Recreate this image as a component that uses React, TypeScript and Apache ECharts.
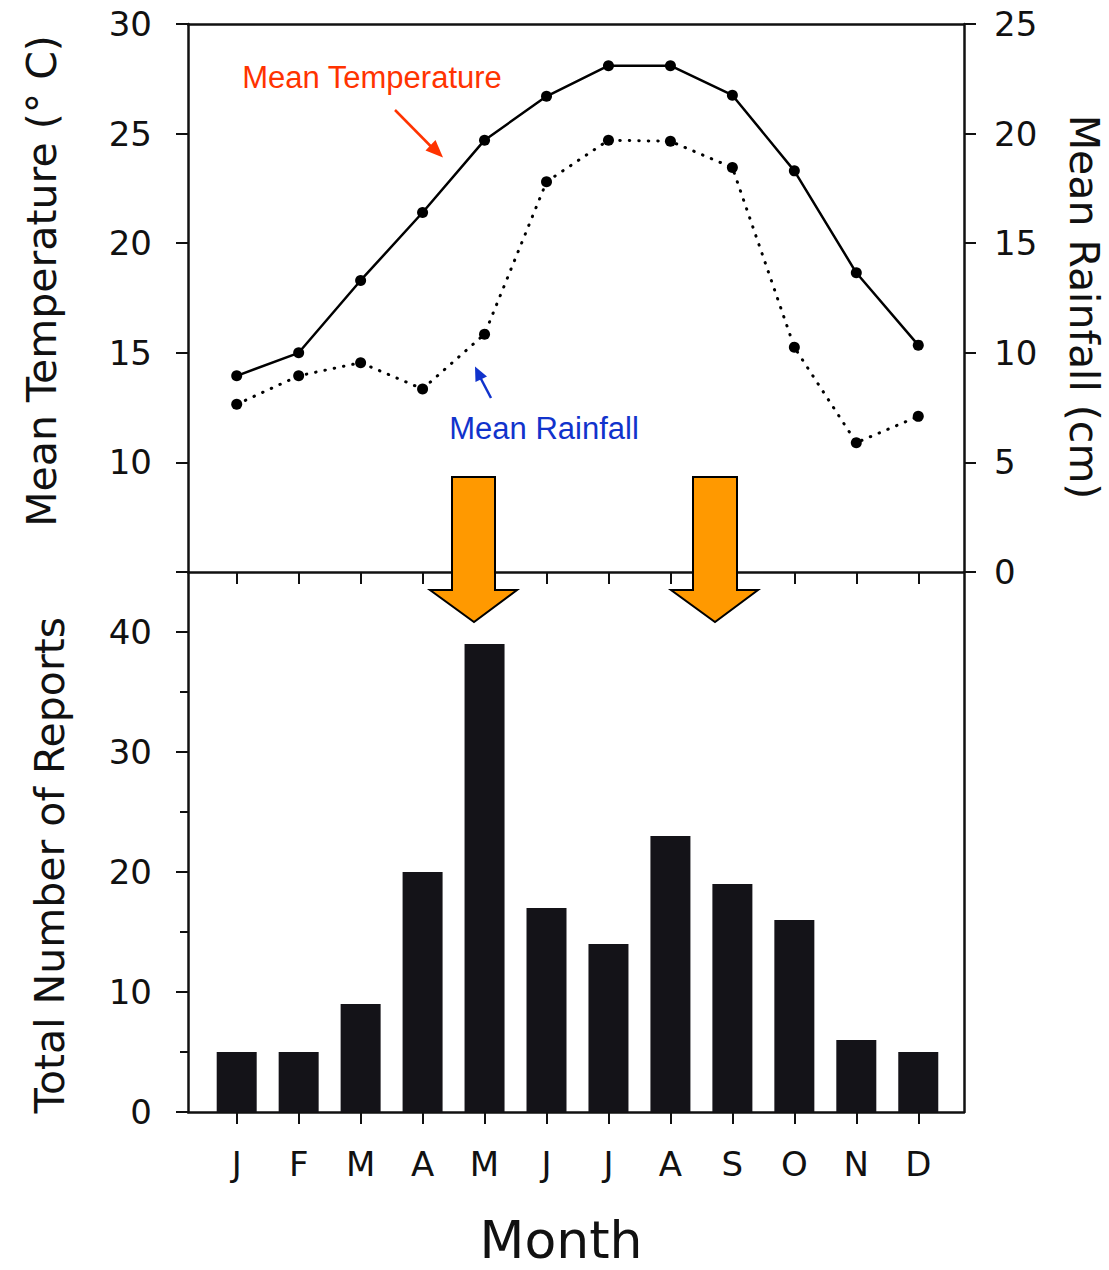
import React, { useEffect, useRef } from "react";
import * as echarts from "echarts";

const months = ["J", "F", "M", "A", "M", "J", "J", "A", "S", "O", "N", "D"];
const meanTemperature = [13.95, 15.0, 18.3, 21.4, 24.7, 26.7, 28.1, 28.1, 26.75, 23.3, 18.65, 15.35];
const meanRainfall = [7.65, 8.95, 9.55, 8.35, 10.85, 17.8, 19.7, 19.65, 18.45, 10.25, 5.9, 7.1];
const totalReports = [5, 5, 9, 20, 39, 17, 14, 23, 19, 16, 6, 5];
const tempTicks = [5, 10, 15, 20, 25, 30];
const rainTicks = [0, 5, 10, 15, 20, 25];
const reportTicks = [0, 10, 20, 30, 40];

const FONT = "DejaVu Sans";
const INK = "#111111";

export default function App() {
  const ref = useRef<HTMLDivElement>(null);

  useEffect(() => {
    document.body.style.margin = "0";
    if (!ref.current) return;
    const chart = echarts.init(ref.current, undefined, { renderer: "svg" });
    const monthIdx = months.map((_, i) => i);
    const xMin = -0.786;
    const xMax = 11.738;
    const axisLine = { show: true, onZero: false, lineStyle: { color: INK, width: 2.5 } };
    const tickLabel = { color: INK, fontFamily: FONT, fontSize: 34 };

    const option: any = {
      animation: false,
      backgroundColor: "#ffffff",
      grid: [
        { left: 188, top: 24, width: 776, height: 548 },
        { left: 188, top: 572, width: 776, height: 540 },
      ],
      xAxis: [
        {
          type: "value", gridIndex: 0, position: "bottom", min: xMin, max: xMax,
          axisLine, splitLine: { show: false },
          axisTick: { show: true, length: 12, inside: false, customValues: monthIdx, lineStyle: { color: INK, width: 2 } },
          axisLabel: { show: false },
        },
        {
          type: "value", gridIndex: 0, position: "top", min: xMin, max: xMax,
          axisLine, splitLine: { show: false }, axisTick: { show: false }, axisLabel: { show: false },
        },
        {
          type: "value", gridIndex: 1, position: "bottom", min: xMin, max: xMax,
          axisLine, splitLine: { show: false },
          axisTick: { show: true, length: 12, inside: false, customValues: monthIdx, lineStyle: { color: INK, width: 2 } },
          axisLabel: {
            ...tickLabel, margin: 35, customValues: monthIdx,
            formatter: (v: number) => months[Math.round(v)] ?? "",
          },
        },
      ],
      yAxis: [
        {
          type: "value", gridIndex: 0, position: "left",
          min: tempTicks[0], max: tempTicks[tempTicks.length - 1], interval: 5,
          axisLine, splitLine: { show: false },
          axisTick: { show: true, length: 12, lineStyle: { color: INK, width: 2 } },
          axisLabel: { ...tickLabel, margin: 36, formatter: (v: number) => (v === tempTicks[0] ? "" : String(v)) },
        },
        {
          type: "value", gridIndex: 0, position: "right",
          min: rainTicks[0], max: rainTicks[rainTicks.length - 1], interval: 5,
          axisLine, splitLine: { show: false },
          axisTick: { show: true, length: 12, lineStyle: { color: INK, width: 2 } },
          axisLabel: { ...tickLabel, margin: 30 },
        },
        {
          type: "value", gridIndex: 1, position: "left",
          min: reportTicks[0], max: 45, interval: 10,
          axisLine, splitLine: { show: false },
          axisTick: { show: true, length: 12, lineStyle: { color: INK, width: 2 } },
          minorTick: { show: true, splitNumber: 2, length: 8, lineStyle: { color: INK, width: 2 } },
          minorSplitLine: { show: false },
          axisLabel: { ...tickLabel, margin: 36, showMaxLabel: false, formatter: (v: number) => (reportTicks.includes(v) ? String(v) : "") },
        },
        {
          type: "value", gridIndex: 1, position: "right", min: 0, max: 45,
          axisLine, splitLine: { show: false }, axisTick: { show: false }, axisLabel: { show: false },
        },
      ],
      series: [
        {
          name: "Mean Temperature", type: "line", xAxisIndex: 0, yAxisIndex: 0,
          data: meanTemperature.map((v, i) => [i, v]),
          symbol: "circle", symbolSize: 11,
          itemStyle: { color: "#000000" },
          lineStyle: { color: "#000000", width: 2.5 },
          z: 5,
        },
        {
          name: "Mean Rainfall", type: "line", xAxisIndex: 0, yAxisIndex: 1,
          data: meanRainfall.map((v, i) => [i, v]),
          symbol: "circle", symbolSize: 11,
          itemStyle: { color: "#000000" },
          lineStyle: { color: "#000000", width: 3, type: [0.5, 9], cap: "round" },
          z: 5,
        },
        {
          name: "Total Number of Reports", type: "bar", xAxisIndex: 2, yAxisIndex: 2,
          data: totalReports.map((v, i) => [i, v]),
          barWidth: 40,
          itemStyle: { color: "#141318" },
        },
      ],
      graphic: [
        {
          type: "text", x: 42, y: 281, rotation: Math.PI / 2,
          style: { text: "Mean Temperature (° C)", fill: INK, font: `41px "${FONT}"`, textAlign: "center", textVerticalAlign: "middle" },
        },
        {
          type: "text", x: 50, y: 865, rotation: Math.PI / 2,
          style: { text: "Total Number of Reports", fill: INK, font: `41px "${FONT}"`, textAlign: "center", textVerticalAlign: "middle" },
        },
        {
          type: "text", x: 1084, y: 307, rotation: -Math.PI / 2,
          style: { text: "Mean Rainfall (cm)", fill: INK, font: `41px "${FONT}"`, textAlign: "center", textVerticalAlign: "middle" },
        },
        {
          type: "text", x: 561, y: 1240,
          style: { text: "Month", fill: INK, font: `52px "${FONT}"`, textAlign: "center", textVerticalAlign: "middle" },
        },
        {
          type: "text", x: 372, y: 77,
          style: { text: "Mean Temperature", fill: "#ff3300", font: `31px "Liberation Sans"`, textAlign: "center", textVerticalAlign: "middle" },
        },
        {
          type: "text", x: 544, y: 428,
          style: { text: "Mean Rainfall", fill: "#1133cc", font: `31px "Liberation Sans"`, textAlign: "center", textVerticalAlign: "middle" },
        },
        {
          type: "line", shape: { x1: 395, y1: 110, x2: 433, y2: 148.5 },
          style: { stroke: "#ff3300", lineWidth: 2.5 },
        },
        {
          type: "polygon", shape: { points: [[443, 157.5], [425.5, 150.5], [435.5, 140]] },
          style: { fill: "#ff3300" },
        },
        {
          type: "line", shape: { x1: 491, y1: 398, x2: 480, y2: 377 },
          style: { stroke: "#1133cc", lineWidth: 2.5 },
        },
        {
          type: "polygon", shape: { points: [[475, 366.5], [487, 376.5], [475.5, 382]] },
          style: { fill: "#1133cc" },
        },
        {
          type: "polygon", z: 100,
          shape: { points: [[452, 477], [495, 477], [495, 590], [517, 590], [474, 622], [430, 590], [452, 590]] },
          style: { fill: "#ff9900", stroke: "#000000", lineWidth: 2 },
        },
        {
          type: "polygon", z: 100,
          shape: { points: [[693, 477], [737, 477], [737, 590], [758, 590], [715, 622], [671, 590], [693, 590]] },
          style: { fill: "#ff9900", stroke: "#000000", lineWidth: 2 },
        },
      ],
    };

    chart.setOption(option);
    return () => chart.dispose();
  }, []);

  return <div ref={ref} style={{ width: 1109, height: 1270 }} />;
}
